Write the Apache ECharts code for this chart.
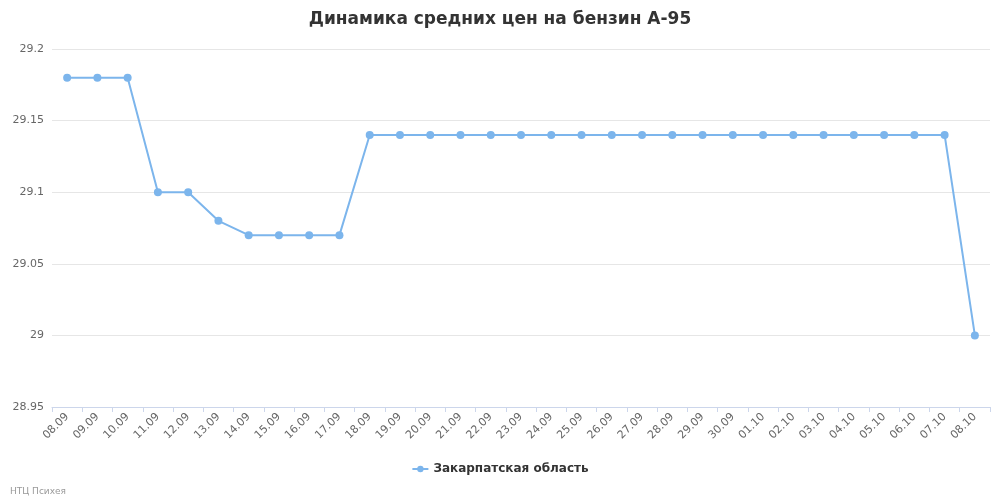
<!DOCTYPE html>
<html><head><meta charset="utf-8">
<script src="https://cdn.jsdelivr.net/npm/echarts@6/dist/echarts.min.js"></script>
<style>html,body{margin:0;padding:0;background:#fff}#c{width:1000px;height:500px}</style>
</head><body><div id="c"></div>
<script>
const categories = ["08.09","09.09","10.09","11.09","12.09","13.09","14.09","15.09","16.09","17.09","18.09","19.09","20.09","21.09","22.09","23.09","24.09","25.09","26.09","27.09","28.09","29.09","30.09","01.10","02.10","03.10","04.10","05.10","06.10","07.10","08.10"];
const values = [29.18,29.18,29.18,29.1,29.1,29.08,29.07,29.07,29.07,29.07,29.14,29.14,29.14,29.14,29.14,29.14,29.14,29.14,29.14,29.14,29.14,29.14,29.14,29.14,29.14,29.14,29.14,29.14,29.14,29.14,29.0];
const seriesName = "Закарпатская область";
const chart = echarts.init(document.getElementById('c'));
chart.setOption({
  animation:false,
  title:{text:"Динамика средних цен на бензин А-95",left:'center',top:6,textStyle:{fontFamily:'DejaVu Sans',fontSize:17,fontWeight:'bold',color:'#333'}},
  graphic:[{type:'text',left:10,top:487,style:{text:'НТЦ Психея',fill:'#999',fontSize:9,fontFamily:'DejaVu Sans'}}],
  legend:{bottom:20,left:'center',itemWidth:16,itemHeight:8,textStyle:{fontFamily:'DejaVu Sans',fontSize:12,fontWeight:'bold',color:'#333'},data:[seriesName]},
  grid:{left:52,right:10,top:49,bottom:93},
  xAxis:{type:'category',data:categories,boundaryGap:true,
    axisLine:{lineStyle:{color:'#ccd6eb'}},axisTick:{show:true,lineStyle:{color:'#ccd6eb'}},
    axisLabel:{rotate:45,interval:0,color:'#666',fontSize:11,fontFamily:'DejaVu Sans'}},
  yAxis:{type:'value',min:28.95,max:29.2,interval:0.05,
    axisLabel:{color:'#666',fontSize:11,fontFamily:'DejaVu Sans',formatter:v=>String(+v.toFixed(2))},
    splitLine:{lineStyle:{color:'#e6e6e6'}},axisLine:{show:false},axisTick:{show:false}},
  series:[{name:seriesName,type:'line',data:values,color:'#7cb5ec',symbol:'circle',symbolSize:8,lineStyle:{width:2,color:'#7cb5ec'},itemStyle:{color:'#7cb5ec'}}]
});
</script></body></html>
